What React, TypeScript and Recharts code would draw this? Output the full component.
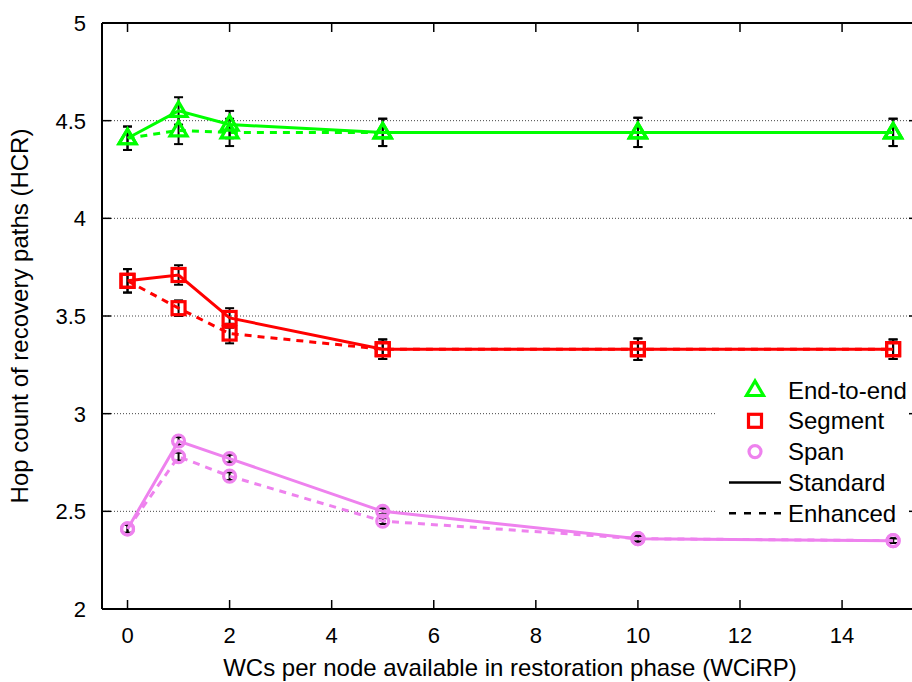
import React from "react";
import { ComposedChart, Line, XAxis, YAxis, ReferenceLine, ErrorBar, Legend } from "recharts";

// WCiRP values on the x axis
const wcirp = [0, 1, 2, 5, 10, 15];

const endToEndStandard = [4.41, 4.55, 4.48, 4.44, 4.44, 4.44];
const endToEndStandardErr = [0.06, 0.07, 0.07, 0.07, 0.075, 0.07];
const endToEndEnhanced = [4.41, 4.45, 4.44, 4.44, 4.44, 4.44];
const endToEndEnhancedErr = [0.06, 0.07, 0.07, 0.07, 0.075, 0.07];

const segmentStandard = [3.68, 3.71, 3.49, 3.33, 3.33, 3.33];
const segmentStandardErr = [0.06, 0.05, 0.05, 0.05, 0.055, 0.05];
const segmentEnhanced = [3.68, 3.54, 3.41, 3.33, 3.33, 3.33];
const segmentEnhancedErr = [0.06, 0.04, 0.05, 0.05, 0.055, 0.05];

const spanStandard = [2.41, 2.86, 2.77, 2.5, 2.36, 2.35];
const spanStandardErr = [0.02, 0.02, 0.02, 0.015, 0.015, 0.012];
const spanEnhanced = [2.41, 2.78, 2.68, 2.45, 2.36, 2.35];
const spanEnhancedErr = [0.02, 0.02, 0.02, 0.015, 0.015, 0.012];

const xTicks = [0, 2, 4, 6, 8, 10, 12, 14];
const yTicks = [2, 2.5, 3, 3.5, 4, 4.5, 5];
const gridValues = [2.5, 3, 3.5, 4, 4.5];

const GREEN = "#00ff00";
const RED = "#ff0000";
const VIOLET = "#ee82ee";
const FONT = '"Liberation Sans", Arial, Helvetica, sans-serif';
const PLOT_TOP = 23;
const DASH = "7 6";

const data = wcirp.map((x, i) => ({
  x,
  e2eStd: endToEndStandard[i],
  e2eStdErr: endToEndStandardErr[i],
  e2eEnh: endToEndEnhanced[i],
  e2eEnhErr: endToEndEnhancedErr[i],
  segStd: segmentStandard[i],
  segStdErr: segmentStandardErr[i],
  segEnh: segmentEnhanced[i],
  segEnhErr: segmentEnhancedErr[i],
  spanStd: spanStandard[i],
  spanStdErr: spanStandardErr[i],
  spanEnh: spanEnhanced[i],
  spanEnhErr: spanEnhancedErr[i],
}));

type Kind = "triangle" | "square" | "circle";

function Marker({ kind, cx, cy, color }: { kind: Kind; cx: number; cy: number; color: string }) {
  if (kind === "triangle") {
    return (
      <polygon
        points={`${cx},${cy - 9} ${cx - 8.5},${cy + 5.5} ${cx + 8.5},${cy + 5.5}`}
        fill="none"
        stroke={color}
        strokeWidth={3.2}
      />
    );
  }
  if (kind === "square") {
    return <rect x={cx - 6.5} y={cy - 6.5} width={13} height={13} fill="none" stroke={color} strokeWidth={3.2} />;
  }
  return <circle cx={cx} cy={cy} r={6} fill="none" stroke={color} strokeWidth={3.2} />;
}

const dotFor = (kind: Kind, color: string, name: string) => (p: any) =>
  <Marker key={`${name}-${p.index}`} kind={kind} cx={p.cx} cy={p.cy} color={color} />;

const XTick = ({ x, y, payload }: any) => (
  <g>
    <line x1={x} x2={x} y1={y} y2={y - 9} stroke="#000" strokeWidth={1.5} />
    <line x1={x} x2={x} y1={PLOT_TOP} y2={PLOT_TOP + 9} stroke="#000" strokeWidth={1.5} />
    <text x={x} y={y + 34} textAnchor="middle" fontSize={22} fontFamily={FONT} fill="#000">
      {payload.value}
    </text>
  </g>
);

const YTick = ({ x, y, payload }: any) => (
  <g>
    <line x1={x} x2={x + 9} y1={y} y2={y} stroke="#000" strokeWidth={1.5} />
    <line x1={909} x2={912} y1={y} y2={y} stroke="#000" strokeWidth={1.5} />
    <text x={x - 16} y={y + 8} textAnchor="end" fontSize={22} fontFamily={FONT} fill="#000">
      {payload.value}
    </text>
  </g>
);

const legendItems: { name: string; kind?: Kind; color: string; dash?: string }[] = [
  { name: "End-to-end", kind: "triangle", color: GREEN },
  { name: "Segment", kind: "square", color: RED },
  { name: "Span", kind: "circle", color: VIOLET },
  { name: "Standard", color: "#000" },
  { name: "Enhanced", color: "#000", dash: "7 8" },
];

function LegendBox() {
  return (
    <div style={{ width: 194, height: 155, background: "#fff" }}>
      <svg width={194} height={155}>
        {legendItems.map((item, i) => {
          const cy = 16 + i * 30.8;
          return (
            <g key={item.name}>
              {item.kind ? (
                <Marker kind={item.kind} cx={40} cy={cy} color={item.color} />
              ) : (
                <line x1={14} x2={66} y1={cy} y2={cy} stroke="#000" strokeWidth={2.5} strokeDasharray={item.dash} />
              )}
              <text x={73} y={cy + 8.5} fontSize={24} fontFamily={FONT} fill="#000">
                {item.name}
              </text>
            </g>
          );
        })}
      </svg>
    </div>
  );
}

export default function App() {
  return (
    <div style={{ position: "absolute", left: 0, top: 0, background: "#fff" }}>
      <ComposedChart width={912} height={682} data={data} margin={{ top: PLOT_TOP, right: 0, bottom: 0, left: 0 }}>
        {gridValues.map((v) => (
          <ReferenceLine key={v} y={v} stroke="#444" strokeWidth={1} strokeDasharray="1 2" />
        ))}
        <ReferenceLine y={5} stroke="#000" strokeWidth={2} />
        <XAxis
          type="number"
          dataKey="x"
          domain={[-0.5, 15.37]}
          ticks={xTicks}
          allowDataOverflow
          height={73}
          tickSize={0}
          tickMargin={0}
          tickLine={false}
          axisLine={{ stroke: "#000", strokeWidth: 2 }}
          tick={<XTick />}
          label={{
            content: () => (
              <text x={510} y={676} textAnchor="middle" fontSize={24} fontFamily={FONT} fill="#000">
                WCs per node available in restoration phase (WCiRP)
              </text>
            ),
          }}
        />
        <YAxis
          type="number"
          domain={[2, 5]}
          ticks={yTicks}
          allowDataOverflow
          width={102}
          tickSize={0}
          tickMargin={0}
          tickLine={false}
          axisLine={{ stroke: "#000", strokeWidth: 2 }}
          tick={<YTick />}
          label={{
            content: () => (
              <text
                x={28}
                y={316}
                transform="rotate(-90 28 316)"
                textAnchor="middle"
                fontSize={24}
                fontFamily={FONT}
                fill="#000"
              >
                Hop count of recovery paths (HCR)
              </text>
            ),
          }}
        />

        <Line dataKey="e2eEnh" stroke={GREEN} strokeWidth={3} strokeDasharray={DASH} dot={dotFor("triangle", GREEN, "e2eEnh")} isAnimationActive={false}>
          <ErrorBar dataKey="e2eEnhErr" width={4.5} stroke="#000" strokeWidth={2} direction="y" />
        </Line>
        <Line dataKey="e2eStd" stroke={GREEN} strokeWidth={3} dot={dotFor("triangle", GREEN, "e2eStd")} isAnimationActive={false}>
          <ErrorBar dataKey="e2eStdErr" width={4.5} stroke="#000" strokeWidth={2} direction="y" />
        </Line>
        <Line dataKey="segEnh" stroke={RED} strokeWidth={3} strokeDasharray={DASH} dot={dotFor("square", RED, "segEnh")} isAnimationActive={false}>
          <ErrorBar dataKey="segEnhErr" width={4.5} stroke="#000" strokeWidth={2} direction="y" />
        </Line>
        <Line dataKey="segStd" stroke={RED} strokeWidth={3} dot={dotFor("square", RED, "segStd")} isAnimationActive={false}>
          <ErrorBar dataKey="segStdErr" width={4.5} stroke="#000" strokeWidth={2} direction="y" />
        </Line>
        <Line dataKey="spanEnh" stroke={VIOLET} strokeWidth={3} strokeDasharray={DASH} dot={dotFor("circle", VIOLET, "spanEnh")} isAnimationActive={false}>
          <ErrorBar dataKey="spanEnhErr" width={4.5} stroke="#000" strokeWidth={2} direction="y" />
        </Line>
        <Line dataKey="spanStd" stroke={VIOLET} strokeWidth={3} dot={dotFor("circle", VIOLET, "spanStd")} isAnimationActive={false}>
          <ErrorBar dataKey="spanStdErr" width={4.5} stroke="#000" strokeWidth={2} direction="y" />
        </Line>

        <Legend
          layout="vertical"
          align="center"
          verticalAlign="middle"
          wrapperStyle={{ left: 715, top: 374, width: 194, height: 155 }}
          content={() => <LegendBox />}
        />
      </ComposedChart>
    </div>
  );
}
